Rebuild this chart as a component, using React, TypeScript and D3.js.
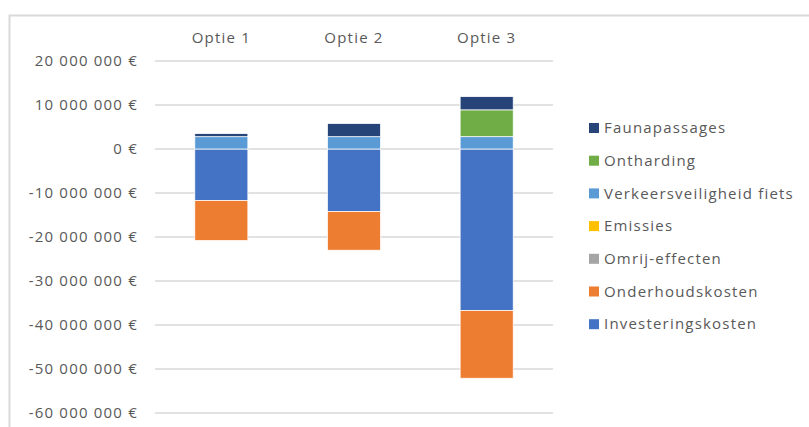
import * as React from "react";
import * as d3 from "d3";

const categories = ["Optie 1", "Optie 2", "Optie 3"];

// series in stacking order (first = closest to zero)
const seriesNames = [
  "Investeringskosten",
  "Onderhoudskosten",
  "Omrij-effecten",
  "Emissies",
  "Verkeersveiligheid fiets",
  "Ontharding",
  "Faunapassages",
];
const investeringskosten = [-11700000, -14200000, -36700000];
const onderhoudskosten = [-9100000, -8800000, -15400000];
const omrijEffecten = [0, 0, 0];
const emissies = [0, 0, 0];
const verkeersveiligheid = [2800000, 2800000, 2800000];
const ontharding = [0, 0, 6100000];
const faunapassages = [700000, 3000000, 3000000];

const colors = ["#4472C4", "#ED7D31", "#A5A5A5", "#FFC000", "#5B9BD5", "#70AD47", "#264478"];
const yTicks = [20000000, 10000000, 0, -10000000, -20000000, -30000000, -40000000, -50000000, -60000000];

const W = 809;
const H = 427;
const font = "'Open Sans', Lato, sans-serif";
const textColor = "#595959";
const spacing = "1.2px";

function fmt(v: number) {
  const s = d3.format(",")(Math.abs(v)).replace(/,/g, " ");
  return (v < 0 ? "-" : "") + s + " €";
}

function drawChart(svgRef: React.RefObject<SVGSVGElement>) {
  const svg = d3.select(svgRef.current);
  svg.selectAll("*").remove();

  const allSeries = [
    investeringskosten,
    onderhoudskosten,
    omrijEffecten,
    emissies,
    verkeersveiligheid,
    ontharding,
    faunapassages,
  ];
  const rows = categories.map((c, i) => {
    const r: any = { cat: c };
    seriesNames.forEach((s, k) => (r[s] = allSeries[k][i]));
    return r;
  });

  const stack = d3.stack<any>().keys(seriesNames).offset(d3.stackOffsetDiverging);
  const layers = stack(rows);

  const x = d3.scaleBand().domain(categories).range([155, 553]).paddingInner(0.6).paddingOuter(0.3);
  const y = d3.scaleLinear().domain([-60000000, 20000000]).range([413, 61]);

  // outer frame
  svg
    .append("path")
    .attr("d", `M9.5,${H} V15.5 H${W}`)
    .attr("fill", "none")
    .attr("stroke", "#d9d9d9")
    .attr("stroke-width", 2);

  // gridlines
  svg
    .append("g")
    .selectAll("line")
    .data(yTicks)
    .join("line")
    .attr("x1", 155)
    .attr("x2", 553)
    .attr("y1", (d) => y(d))
    .attr("y2", (d) => y(d))
    .attr("stroke", "#d9d9d9")
    .attr("stroke-width", 1.5);

  // tick labels
  svg
    .append("g")
    .selectAll("text")
    .data(yTicks)
    .join("text")
    .attr("x", 138)
    .attr("y", (d) => y(d))
    .attr("dy", "0.35em")
    .attr("text-anchor", "end")
    .attr("font-family", font)
    .attr("font-size", 15)
    .attr("letter-spacing", spacing)
    .attr("fill", textColor)
    .text((d) => fmt(d));

  // category labels at top
  svg
    .append("g")
    .selectAll("text")
    .data(categories)
    .join("text")
    .attr("x", (d) => x(d)! + x.bandwidth() / 2)
    .attr("y", 38)
    .attr("dy", "0.35em")
    .attr("text-anchor", "middle")
    .attr("font-family", font)
    .attr("font-size", 15)
    .attr("letter-spacing", spacing)
    .attr("fill", textColor)
    .text((d) => d);

  // bars
  svg
    .append("g")
    .selectAll("g")
    .data(layers)
    .join("g")
    .attr("fill", (d, i) => colors[i])
    .selectAll("rect")
    .data((d) => d.filter((p) => p[1] - p[0] !== 0))
    .join("rect")
    .attr("x", (d) => x(d.data.cat)!)
    .attr("width", x.bandwidth())
    .attr("y", (d) => y(Math.max(d[0], d[1])))
    .attr("height", (d) => Math.abs(y(d[0]) - y(d[1])))
    .attr("stroke", "#ffffff")
    .attr("stroke-width", 0.75);

  // legend (reversed order, like Excel)
  const legend = svg
    .append("g")
    .selectAll("g")
    .data(seriesNames.map((s, i) => ({ s, c: colors[i] })).reverse())
    .join("g")
    .attr("transform", (d, i) => `translate(589,${128 + i * 32.7})`);
  legend
    .append("rect")
    .attr("x", 0)
    .attr("y", -5)
    .attr("width", 10)
    .attr("height", 10)
    .attr("fill", (d) => d.c);
  legend
    .append("text")
    .attr("x", 15)
    .attr("dy", "0.35em")
    .attr("font-family", font)
    .attr("font-size", 15)
    .attr("letter-spacing", spacing)
    .attr("fill", textColor)
    .text((d) => d.s);
}

const App: React.FunctionComponent = () => {
  const svg = React.useRef<SVGSVGElement>(null);
  React.useEffect(() => {
    drawChart(svg);
  }, [svg]);

  return (
    <svg
      ref={svg}
      width={W}
      height={H}
      style={{ position: "absolute", left: 0, top: 0, background: "#ffffff" }}
    />
  );
};

export default App;
